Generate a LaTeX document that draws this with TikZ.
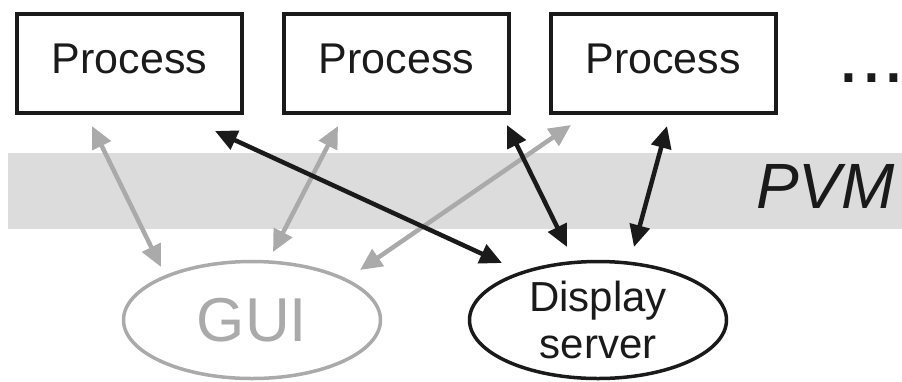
\documentclass[tikz,border=0pt]{standalone}
\usepackage{fontspec}
\setmainfont{Liberation Sans}
\usetikzlibrary{arrows.meta,shapes.geometric}
\definecolor{bandgray}{HTML}{DCDCDC}
\definecolor{lightgray}{HTML}{AAAAAA}
\definecolor{ink}{HTML}{1A1A1A}
\tikzset{
  procbox/.style={draw=ink, line width=4pt, minimum width=225pt, minimum height=99pt,
    inner sep=0pt, text depth=9pt, font=\fontsize{43}{50}\selectfont, text=ink},
  oval/.style={ellipse, line width=3.5pt, minimum width=257pt, minimum height=117pt, inner sep=0pt},
  link/.style={line width=4.5pt, {Triangle[length=22pt,width=20pt]}-{Triangle[length=22pt,width=20pt]}},
  graylink/.style={link, draw=lightgray, fill=lightgray},
  blacklink/.style={link, draw=ink, fill=ink}
}
\begin{document}
\begin{tikzpicture}[x=1pt,y=-1pt]
  \useasboundingbox (0,0) rectangle (902,381);
  % the PVM layer
  \fill[bandgray] (8,153) rectangle (902,229);
  \node[anchor=base east, inner sep=0pt, font=\fontsize{64}{70}\selectfont\itshape, text=ink]
    (pvm) at (895,208) {PVM};

  % processes
  \node[procbox] (p1) at (129.5,63.5) {Process};
  \node[procbox] (p2) at (396.5,63.5) {Process};
  \node[procbox] (p3) at (663,63.5) {Process};
  \node[anchor=base west, inner sep=0pt, font=\fontsize{82}{86}\selectfont, text=ink]
    (more) at (837,82) {...\kern-10pt};

  % clients
  \node[oval, draw=lightgray, text=lightgray, font=\fontsize{62}{68}\selectfont]
    (gui) at (252,320) {GUI};
  \node[oval, draw=ink, text=ink, align=center, font=\fontsize{42}{47}\selectfont]
    (ds) at (598,320) {Display\\server};

  % connector end points
  \coordinate (g1a) at (92,126);  \coordinate (g1b) at (161,267);
  \coordinate (g2a) at (338,126); \coordinate (g2b) at (273,252);
  \coordinate (g3a) at (571,125); \coordinate (g3b) at (360,270);
  \coordinate (k1a) at (215,131); \coordinate (k1b) at (502,263);
  \coordinate (k2a) at (507,125); \coordinate (k2b) at (567,247);
  \coordinate (k3a) at (667,126); \coordinate (k3b) at (634,247);

  % GUI links
  \draw[graylink] (g1a) -- (g1b);
  \draw[graylink] (g2a) -- (g2b);
  \draw[graylink] (g3a) -- (g3b);
  % display server links
  \draw[blacklink] (k1a) -- (k1b);
  \draw[blacklink] (k2a) -- (k2b);
  \draw[blacklink] (k3a) -- (k3b);
\end{tikzpicture}
\end{document}
